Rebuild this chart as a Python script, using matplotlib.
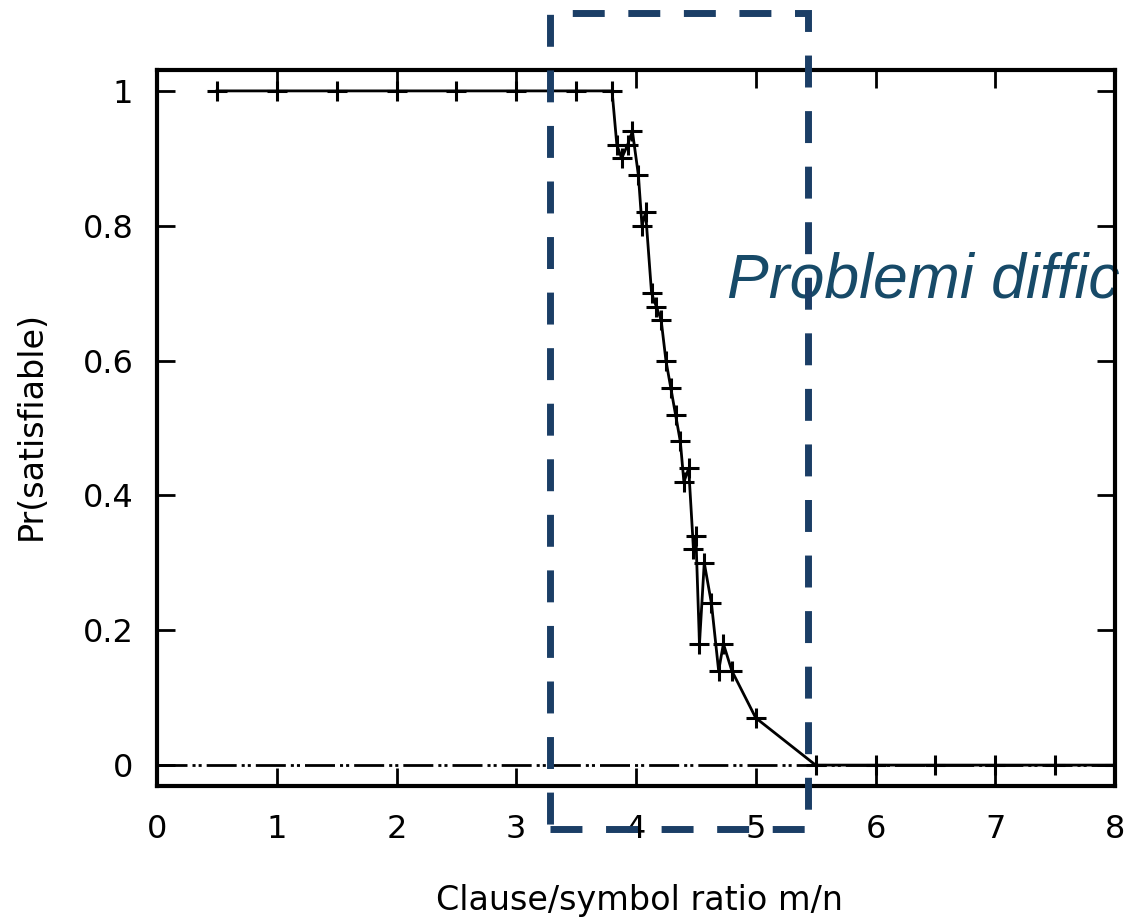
#!/usr/bin/env python3
"""Random 3-SAT: probability of satisfiability vs clause/symbol ratio."""

import matplotlib
matplotlib.use("Agg")
import matplotlib.pyplot as plt
from matplotlib.patches import Rectangle

# clause/symbol ratio m/n and fraction of satisfiable instances
ratio = [0.5, 1.0, 1.5, 2.0, 2.5, 3.0, 3.5, 3.8,
         3.84, 3.88, 3.93, 3.97, 4.02, 4.05, 4.08, 4.13, 4.17, 4.21,
         4.25, 4.29, 4.33, 4.37, 4.40, 4.44, 4.48, 4.50, 4.53, 4.57,
         4.63, 4.69, 4.73, 4.80, 5.00, 5.50,
         6.0, 6.5, 7.0, 7.5, 8.0]
p_sat = [1.0, 1.0, 1.0, 1.0, 1.0, 1.0, 1.0, 1.0,
         0.92, 0.90, 0.92, 0.94, 0.875, 0.80, 0.82, 0.70, 0.68, 0.66,
         0.60, 0.56, 0.52, 0.48, 0.42, 0.44, 0.32, 0.34, 0.18, 0.30,
         0.24, 0.14, 0.18, 0.14, 0.07, 0.0,
         0.0, 0.0, 0.0, 0.0, 0.0]

x_ticks = [0, 1, 2, 3, 4, 5, 6, 7, 8]
y_ticks = [0, 0.2, 0.4, 0.6, 0.8, 1]
y_tick_labels = ["0", "0.2", "0.4", "0.6", "0.8", "1"]

# highlighted "hard problems" region (data coords)
hard_x = (3.28, 5.44)
hard_y = (-0.095, 1.115)
hard_label = "Problemi diffic"

BLUE = "#1b3e66"
TEXT_BLUE = "#174a68"

fig = plt.figure(figsize=(11.26, 9.24), dpi=100)
ax = fig.add_axes([157 / 1126, 138 / 924, 958 / 1126, 716 / 924])

ax.set_xlim(0, 8)
ax.set_ylim(-0.031, 1.031)

# zero axis, gnuplot style dash-dot-dot
ax.axhline(0, color="black", lw=2.0, linestyle=(0, (10.8, 1.8, 1.1, 1.1, 1.1, 1.8)),
           zorder=1.5)

ax.plot(ratio, p_sat, color="black", lw=2.0, marker="+", markersize=14,
        markeredgewidth=2.2, zorder=3)

ax.set_xticks(x_ticks)
ax.set_yticks(y_ticks)
ax.set_yticklabels(y_tick_labels)
ax.tick_params(direction="in", length=13, width=2, top=True, right=True,
               labelsize=23, color="black")
ax.tick_params(axis="x", pad=20)
ax.tick_params(axis="y", pad=17)
for sp in ax.spines.values():
    sp.set_linewidth(3.0)
    sp.set_zorder(2.5)

ax.set_xlabel("Clause/symbol ratio m/n", fontsize=24)
ax.set_ylabel("Pr(satisfiable)", fontsize=24)
ax.xaxis.label.set_va("center")
ax.yaxis.label.set_va("center")
ax.xaxis.set_label_coords(0.504, -0.160)
ax.yaxis.set_label_coords(-0.131, 0.504)

rect = Rectangle((hard_x[0], hard_y[0]), hard_x[1] - hard_x[0], hard_y[1] - hard_y[0],
                 fill=False, edgecolor=BLUE, lw=5, linestyle=(0, (4.6, 3.4)),
                 clip_on=False, zorder=4)
ax.add_patch(rect)

ax.text(727 / 1126, 1 - 297 / 924, hard_label, transform=fig.transFigure,
        fontsize=45, style="italic", family="Liberation Sans", color=TEXT_BLUE,
        ha="left", va="baseline", zorder=2, clip_on=False)

fig.savefig("out.png", dpi=100)
